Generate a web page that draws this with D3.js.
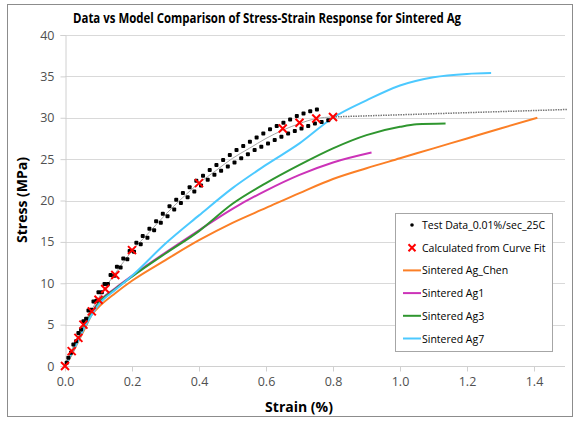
<!DOCTYPE html>
<html><head><meta charset="utf-8">
<script src="https://cdn.jsdelivr.net/npm/d3@7"></script>
<style>body{margin:0;background:#fff}svg{display:block}</style>
</head><body>
<svg id="c" width="576" height="421"></svg>
<script>
// ---- data ----
const xTicks = [0.0, 0.2, 0.4, 0.6, 0.8, 1.0, 1.2, 1.4];
const yTicks = [0, 5, 10, 15, 20, 25, 30, 35, 40];

const testUpper = [[0.010,1.0],[0.025,2.6],[0.040,4.0],[0.055,5.4],[0.070,6.7],[0.085,7.8],[0.100,8.9],[0.118,9.9],[0.136,11.0],[0.155,12.0],[0.174,13.0],[0.193,13.9],[0.213,14.9],[0.232,15.7],[0.252,16.6],[0.272,17.5],[0.292,18.4],[0.312,19.3],[0.332,20.1],[0.352,20.9],[0.372,21.6],[0.392,22.4],[0.412,23.0],[0.432,23.7],[0.452,24.3],[0.472,24.9],[0.492,25.5],[0.512,26.1],[0.532,26.6],[0.552,27.1],[0.572,27.6],[0.592,28.1],[0.612,28.6],[0.632,29.0],[0.652,29.4],[0.672,29.8],[0.692,30.2],[0.712,30.5],[0.732,30.8],[0.752,31.0]];
const testLower = [[0.005,0.4],[0.018,1.6],[0.033,3.0],[0.048,4.4],[0.063,5.7],[0.078,6.8],[0.094,7.9],[0.110,8.9],[0.128,9.9],[0.147,10.9],[0.166,11.9],[0.186,12.9],[0.206,13.8],[0.226,14.7],[0.246,15.5],[0.266,16.4],[0.286,17.3],[0.306,18.1],[0.326,18.9],[0.346,19.7],[0.366,20.4],[0.386,21.1],[0.406,21.8],[0.426,22.5],[0.446,23.1],[0.466,23.6],[0.486,24.1],[0.506,24.6],[0.526,25.1],[0.546,25.6],[0.566,26.1],[0.586,26.5],[0.606,26.9],[0.626,27.3],[0.646,27.7],[0.666,28.1],[0.686,28.4],[0.706,28.7],[0.726,29.0],[0.746,29.3],[0.766,29.5],[0.786,29.7]];
const curveFit = [[0,0],[0.02,1.8],[0.04,3.4],[0.055,5.0],[0.08,6.6],[0.1,8.0],[0.12,9.3],[0.15,11.0],[0.2,14.0],[0.4,22.1],[0.65,28.7],[0.7,29.4],[0.75,29.9],[0.8,30.1]];
const fitLine = [[0,0],[0.05,4.6],[0.1,8.2],[0.15,11.2],[0.2,13.9],[0.25,16.1],[0.3,18.3],[0.35,20.3],[0.4,22.1],[0.45,23.6],[0.5,25.1],[0.55,26.3],[0.6,27.5],[0.65,28.5],[0.7,29.3],[0.75,29.9],[0.8,30.1]];
const fitExtension = [[0.8,30.1],[1.5,31.0]];
const agChen = [[0,0],[0.02,1.4],[0.04,3.0],[0.06,4.6],[0.08,6.2],[0.1,7.1],[0.15,8.8],[0.2,10.3],[0.3,12.8],[0.4,15.2],[0.5,17.3],[0.6,19.1],[0.7,20.9],[0.8,22.6],[0.9,23.9],[1.0,25.1],[1.1,26.3],[1.2,27.5],[1.3,28.7],[1.41,30.0]];
const ag1 = [[0,0],[0.02,1.6],[0.04,3.3],[0.06,5.0],[0.08,6.5],[0.1,7.7],[0.15,9.4],[0.2,10.9],[0.3,13.7],[0.4,16.4],[0.5,19.0],[0.6,21.2],[0.7,23.1],[0.8,24.6],[0.915,25.8]];
const ag3 = [[0,0],[0.02,1.6],[0.04,3.3],[0.06,5.0],[0.08,6.4],[0.1,7.6],[0.15,9.3],[0.2,10.8],[0.3,13.6],[0.4,16.3],[0.5,19.6],[0.6,22.1],[0.7,24.3],[0.8,26.3],[0.9,27.9],[1.0,28.9],[1.05,29.2],[1.136,29.3]];
const ag7 = [[0,0],[0.02,1.5],[0.04,3.1],[0.06,4.8],[0.08,6.2],[0.1,7.4],[0.15,9.2],[0.2,10.9],[0.3,14.8],[0.4,18.2],[0.5,21.5],[0.6,24.3],[0.7,26.9],[0.8,30.0],[0.9,32.1],[1.0,33.9],[1.1,34.9],[1.2,35.3],[1.272,35.4]];

const seriesNames = ["Test Data_0.01%/sec_25C","Calculated from Curve Fit","Sintered Ag_Chen","Sintered Ag1","Sintered Ag3","Sintered Ag7"];
const lineColors = ["#fb7f26","#cc33b8","#2f962f","#4cc9ff"];

// ---- chart ----
const svg = d3.select("#c");
const M = {left:65, right:565, top:35, bottom:366};
const x = d3.scaleLinear().domain([0,1.5]).range([M.left, M.left + 1.5*335]);
const y = d3.scaleLinear().domain([0,40]).range([M.bottom, M.top]);

svg.append("rect").attr("x",7.5).attr("y",4.5).attr("width",565).attr("height",412)
  .attr("fill","#fff").attr("stroke","#8c8c8c");

// gridlines
svg.append("g").selectAll("line").data(yTicks.filter(d=>d>0)).join("line")
  .attr("x1",M.left).attr("x2",M.right).attr("y1",d=>Math.round(y(d))+0.5).attr("y2",d=>Math.round(y(d))+0.5)
  .attr("stroke","#d9d9d9").attr("stroke-width",1);

// axes
const font = "'Open Sans', 'Liberation Sans', sans-serif";
const yAxis = svg.append("g").attr("transform",`translate(${M.left+0.5},0)`)
  .call(d3.axisLeft(y).tickValues(yTicks).tickSize(5).tickPadding(6).tickFormat(d3.format("d")));
yAxis.select(".domain").attr("stroke","#d0d0d0");
yAxis.selectAll(".tick line").attr("stroke","#d0d0d0");
yAxis.selectAll("text").attr("fill","#505050").style("font-family",font).style("font-size","12.5px");

const xAxis = svg.append("g").attr("transform",`translate(0,${M.bottom+0.5})`)
  .call(d3.axisBottom(x).tickValues(xTicks).tickSize(5).tickPadding(6).tickFormat(d3.format(".1f")));
xAxis.select(".domain").attr("stroke","#d0d0d0").attr("d",`M${M.left},0H${M.right}`);
xAxis.selectAll(".tick line").attr("stroke","#d0d0d0");
xAxis.selectAll("text").attr("fill","#505050").style("font-family",font).style("font-size","12.5px");

// titles
svg.append("text").attr("x",267).attr("y",23).attr("text-anchor","middle")
  .attr("textLength",388).attr("lengthAdjust","spacingAndGlyphs")
  .style("font-family",font).style("font-weight","bold").style("font-size","14.5px").attr("fill","#000")
  .text("Data vs Model Comparison of Stress-Strain Response for Sintered Ag");
svg.append("text").attr("x",299).attr("y",412).attr("text-anchor","middle")
  .style("font-family",font).style("font-weight","bold").style("font-size","14px")
  .text("Strain (%)");
svg.append("text").attr("transform","translate(27,200) rotate(-90)").attr("text-anchor","middle")
  .style("font-family",font).style("font-weight","bold").style("font-size","14px")
  .text("Stress (MPa)");

const line = d3.line().x(d=>x(d[0])).y(d=>y(d[1])).curve(d3.curveMonotoneX);

// model lines
[agChen, ag1, ag3, ag7].forEach((s,i)=>{
  svg.append("path").datum(s).attr("d",line).attr("fill","none")
    .attr("stroke",lineColors[i]).attr("stroke-width",2);
});

// fit line + extension
svg.append("path").datum(fitLine).attr("d",line).attr("fill","none").attr("stroke","#a6a6a6").attr("stroke-width",1);
svg.append("path").datum(fitExtension).attr("d",d3.line().x(d=>x(d[0])).y(d=>y(d[1]))).attr("fill","none")
  .attr("stroke","#777").attr("stroke-width",1.5).attr("stroke-dasharray","1.5,1");

// test data markers
svg.append("g").selectAll("rect").data(testUpper.concat(testLower)).join("rect")
  .attr("x",d=>x(d[0])-2).attr("y",d=>y(d[1])-2).attr("width",4).attr("height",4).attr("rx",1).attr("fill","#000");

// curve fit X markers
const xm = (g)=>g.append("path").attr("d","M-4,-4L4,4M-4,4L4,-4").attr("stroke","#ff0000").attr("stroke-width",2);
svg.append("g").selectAll("g").data(curveFit).join("g")
  .attr("transform",d=>`translate(${x(d[0])},${y(d[1])})`).call(xm);

// legend
const L = svg.append("g");
L.append("rect").attr("x",395.5).attr("y",213.5).attr("width",157).attr("height",138)
  .attr("fill","#fff").attr("stroke","#a6a6a6");
seriesNames.forEach((n,i)=>{
  const yy = 225 + i*22.7;
  if(i===0){
    L.append("circle").attr("cx",412).attr("cy",yy).attr("r",1.8).attr("fill","#000");
  } else if(i===1){
    L.append("g").attr("transform",`translate(412,${yy})`).call(g=>g.append("path").attr("d","M-3.5,-3.5L3.5,3.5M-3.5,3.5L3.5,-3.5").attr("stroke","#ff0000").attr("stroke-width",2));
  } else {
    L.append("line").attr("x1",403).attr("x2",421).attr("y1",yy).attr("y2",yy).attr("stroke",lineColors[i-2]).attr("stroke-width",2);
  }
  L.append("text").attr("x",422).attr("y",yy+4).style("font-family",font).style("font-size","10.5px").attr("fill","#000").text(n);
});
</script>
</body></html>
